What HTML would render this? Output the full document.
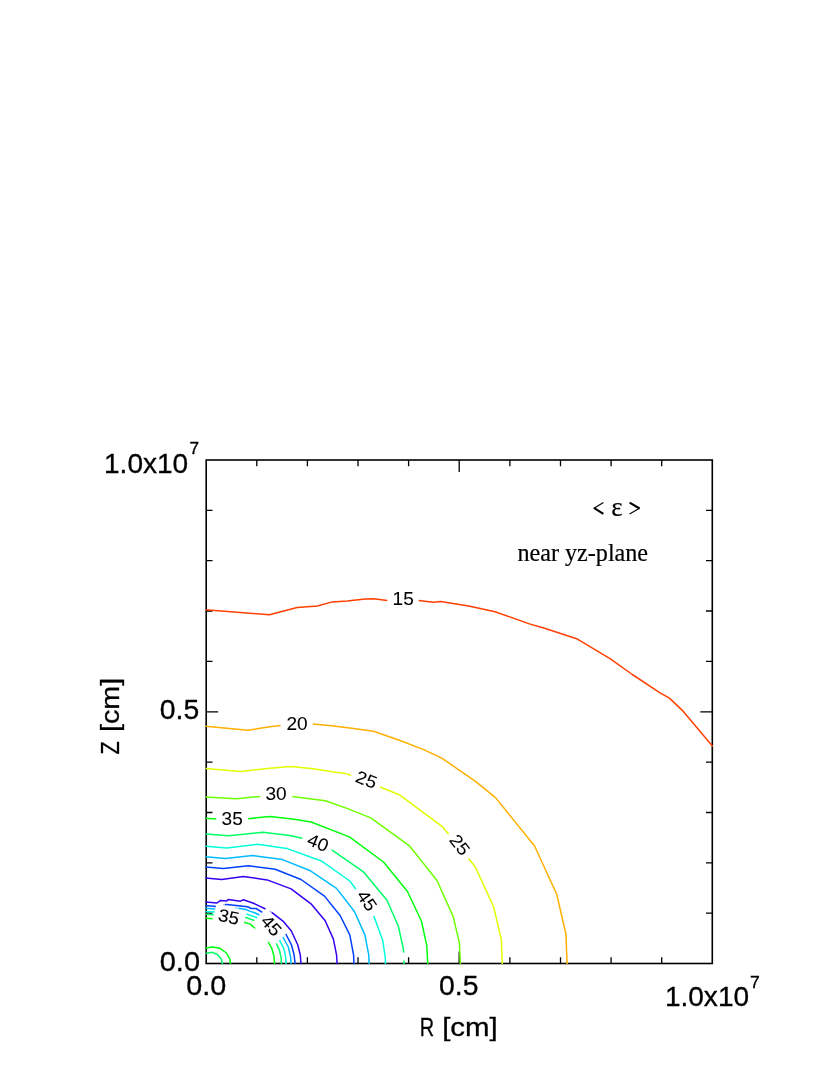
<!DOCTYPE html>
<html><head><meta charset="utf-8"><title>contour</title>
<style>
html,body{margin:0;padding:0;background:#fff;}
body{width:830px;height:1075px;overflow:hidden;font-family:"Liberation Sans",sans-serif;}
svg{display:block;will-change:transform;}
.t{font-family:"Liberation Sans",sans-serif;fill:#000;stroke:#000;stroke-width:0.3px;}
.l{stroke-width:0.05px;}
.s{font-family:"Liberation Serif",serif;fill:#000;stroke:#000;stroke-width:0.2px;}
</style></head><body>
<svg width="830" height="1075" viewBox="0 0 830 1075">
<rect x="0" y="0" width="830" height="1075" fill="#fff"/>
<g stroke="#000" stroke-width="1.6" fill="none" stroke-linecap="butt">
<rect x="206.2" y="460.0" width="506.1" height="503.5"/>
<path stroke-width="1.3" d="M256.8,963.5V957.2M256.8,460.0V466.3M206.2,913.1H212.5M712.3,913.1H706.0M307.4,963.5V957.2M307.4,460.0V466.3M206.2,862.8H212.5M712.3,862.8H706.0M358.0,963.5V957.2M358.0,460.0V466.3M206.2,812.5H212.5M712.3,812.5H706.0M408.6,963.5V957.2M408.6,460.0V466.3M206.2,762.1H212.5M712.3,762.1H706.0M459.2,963.5V951.5M459.2,460.0V472.0M206.2,711.8H218.2M712.3,711.8H700.3M509.9,963.5V957.2M509.9,460.0V466.3M206.2,661.4H212.5M712.3,661.4H706.0M560.5,963.5V957.2M560.5,460.0V466.3M206.2,611.0H212.5M712.3,611.0H706.0M611.1,963.5V957.2M611.1,460.0V466.3M206.2,560.7H212.5M712.3,560.7H706.0M661.7,963.5V957.2M661.7,460.0V466.3M206.2,510.4H212.5M712.3,510.4H706.0"/>
</g>
<g fill="none" stroke-width="1.5" stroke-linejoin="round" stroke-linecap="butt">
<polyline stroke="#FF4000" points="205.6,609.8 269.5,614.8 297.1,607.6 317.5,606.0 332.2,601.9 347.2,601.0 365.1,599.1 373.9,598.8 387.3,600.4"/>
<polyline stroke="#FF4000" points="418.7,600.4 433.4,602.2 440.6,601.6 468.7,606.0 495.0,611.7 529.4,623.9 544.6,628.2 576.6,638.7 610.4,658.9 632.3,674.5 659.3,692.3 669.4,698.1 682.9,710.9 712.8,746.5"/>
<polyline stroke="#FFAF00" points="205.6,726.3 247.9,730.2 269.9,726.7 280.7,725.5"/>
<polyline stroke="#FFAF00" points="312.8,723.9 331.3,725.8 351.8,728.2 373.5,731.3 400.0,740.5 423.7,749.6 441.8,758.1 475.5,781.4 495.5,797.6 534.6,846.0 556.7,894.2 565.9,934.0 567.1,964.1"/>
<polyline stroke="#E0FF00" points="205.6,768.6 240.7,771.6 269.9,768.2 291.1,766.5 313.3,768.7 333.7,772.0 345.8,773.4 351.2,775.5"/>
<polyline stroke="#E0FF00" points="380.3,787.0 399.2,794.7 442.7,826.9 448.7,834.2"/>
<polyline stroke="#E0FF00" points="468.6,858.5 475.3,867.0 493.6,906.7 501.3,939.3 502.3,964.1"/>
<polyline stroke="#6EFF00" points="205.6,796.9 236.1,798.8 260.2,796.4"/>
<polyline stroke="#6EFF00" points="292.3,796.4 325.3,800.8 347.0,808.4 370.8,817.9 409.8,846.2 437.0,880.5 453.1,916.4 459.4,942.9 460.4,964.1"/>
<polyline stroke="#00FF0C" points="205.6,818.3 216.3,819.1"/>
<polyline stroke="#00FF0C" points="248.1,818.7 270.2,816.4 294.0,819.2 311.0,822.0 349.4,836.9 383.5,862.0 407.5,891.5 421.4,921.0 426.7,945.1 427.8,964.1"/>
<polyline stroke="#00FF66" points="205.6,833.9 228.6,835.8 262.9,832.2 289.6,835.4 302.4,838.2"/>
<polyline stroke="#00FF66" points="331.8,849.9 363.8,872.2 386.8,900.0 398.3,926.0 403.2,948.0 403.7,952.6"/>
<polyline stroke="#00FF66" points="403.9,960.5 403.9,964.1"/>
<polyline stroke="#00FFDA" points="205.6,846.2 226.7,847.9 257.8,844.3 286.7,848.4 322.0,861.3 349.8,881.0 356.0,889.3"/>
<polyline stroke="#00FFDA" points="373.8,916.0 382.6,940.0 385.2,956.9 385.5,964.1"/>
<polyline stroke="#00BBFF" points="205.6,856.8 225.3,858.5 252.8,855.6 282.4,859.6 310.5,870.8 336.5,888.4 354.3,911.2 364.9,934.9 368.8,955.2 369.2,964.1"/>
<polyline stroke="#0040FF" points="205.6,866.9 223.4,868.5 248.4,865.7 275.2,869.3 301.0,879.5 324.5,896.1 340.1,915.5 349.8,934.9 353.6,955.2 354.0,964.1"/>
<polyline stroke="#3600F0" points="205.6,877.9 221.7,879.4 243.4,876.6 267.2,879.9 291.1,888.9 311.0,903.8 325.2,920.8 333.4,939.1 336.6,955.2 337.1,964.1"/>
<polyline stroke="#3600F0" points="205.6,902.0 217.0,903.0 220.6,900.4 226.8,901.0 228.2,899.5 240.5,901.2 243.4,899.7 253.5,903.3 265.5,909.0"/>
<polyline stroke="#3600F0" points="271.7,912.3 283.6,921.7 291.2,930.7 297.7,944.8 300.3,955.0 301.0,964.1"/>
<polyline stroke="#0040FF" points="205.6,905.5 215.9,906.4"/>
<polyline stroke="#0040FF" points="225.0,904.6 226.4,904.4 238.7,905.7 247.4,906.7 251.4,908.5 256.1,908.5 262.3,912.3"/>
<polyline stroke="#0040FF" points="285.8,934.0 291.6,945.2 294.1,955.0 295.2,964.1"/>
<polyline stroke="#00BBFF" points="205.6,908.3 215.2,909.0"/>
<polyline stroke="#00BBFF" points="238.6,908.3 245.9,909.5 250.3,911.4 254.6,912.7 259.5,915.0"/>
<polyline stroke="#00BBFF" points="282.9,937.0 288.3,947.0 290.5,956.4 291.1,964.1"/>
<polyline stroke="#00FFDA" points="205.6,911.4 214.8,912.0"/>
<polyline stroke="#00FFDA" points="246.3,914.0 257.2,917.7"/>
<polyline stroke="#00FFDA" points="279.6,940.1 284.0,949.2 285.8,957.8 286.0,964.1"/>
<polyline stroke="#00FF66" points="205.6,914.3 213.8,914.7"/>
<polyline stroke="#00FF66" points="245.2,917.2 254.4,920.5"/>
<polyline stroke="#00FF66" points="276.2,943.4 279.6,950.6 281.1,957.8 281.5,964.1"/>
<polyline stroke="#00FF0C" points="205.6,918.3 212.7,918.7"/>
<polyline stroke="#00FF0C" points="244.1,922.3 250.3,924.1 254.6,928.0"/>
<polyline stroke="#00FF0C" points="268.4,942.3 271.7,948.1 273.9,955.7 274.6,964.1"/>
<polyline stroke="#00FF0C" points="205.6,948.1 212.6,947.0 219.9,948.3 226.5,953.0 229.8,958.9 230.5,964.1"/>
<polyline stroke="#00FF66" points="205.6,953.4 211.9,952.3 217.2,954.3 221.2,958.9 222.5,964.1"/>
<polyline stroke="#00BBFF" stroke-opacity="0.35" points="234.8,907.8 238.6,908.3"/>
<polyline stroke="#0040FF" stroke-opacity="0.35" points="223.4,905.0 225.0,904.6"/>
<polyline stroke="#00FF0C" stroke-opacity="0.35" points="254.6,928.0 255.7,929.3"/>
<polyline stroke="#3600F0" stroke-opacity="0.35" points="269.6,910.9 271.7,912.3"/>
<polyline stroke="#00FF0C" stroke-opacity="0.35" points="267.6,941.0 268.4,942.3"/>
</g>
<text class="t l" font-size="17.6" text-anchor="middle" textLength="21.2" lengthAdjust="spacingAndGlyphs" transform="translate(403.2,598.8) rotate(0)" x="0" y="6.4">15</text>
<text class="t l" font-size="17.6" text-anchor="middle" textLength="21.2" lengthAdjust="spacingAndGlyphs" transform="translate(297.0,723.6) rotate(0)" x="0" y="6.4">20</text>
<text class="t l" font-size="17.6" text-anchor="middle" textLength="21.2" lengthAdjust="spacingAndGlyphs" transform="translate(276.1,793.3) rotate(0)" x="0" y="6.4">30</text>
<text class="t l" font-size="17.6" text-anchor="middle" textLength="21.2" lengthAdjust="spacingAndGlyphs" transform="translate(232.2,818.6) rotate(0)" x="0" y="6.4">35</text>
<text class="t l" font-size="17.6" text-anchor="middle" textLength="21.2" lengthAdjust="spacingAndGlyphs" transform="translate(366.5,779.2) rotate(21)" x="0" y="6.4">25</text>
<text class="t l" font-size="17.6" text-anchor="middle" textLength="21.2" lengthAdjust="spacingAndGlyphs" transform="translate(460.1,844.6) rotate(52)" x="0" y="6.4">25</text>
<text class="t l" font-size="17.6" text-anchor="middle" textLength="21.2" lengthAdjust="spacingAndGlyphs" transform="translate(318.1,842.4) rotate(22)" x="0" y="6.4">40</text>
<text class="t l" font-size="17.6" text-anchor="middle" textLength="21.2" lengthAdjust="spacingAndGlyphs" transform="translate(367.3,900.4) rotate(55)" x="0" y="6.4">45</text>
<text class="t l" font-size="17.6" text-anchor="middle" textLength="21.2" lengthAdjust="spacingAndGlyphs" transform="translate(228.9,916.4) rotate(12)" x="0" y="6.4">35</text>
<text class="t l" font-size="17.6" text-anchor="middle" textLength="21.2" lengthAdjust="spacingAndGlyphs" transform="translate(271.5,925.4) rotate(48)" x="0" y="6.4">45</text>
<text class="t" font-size="26.8" x="159.8" y="971.0" textLength="40.2" lengthAdjust="spacingAndGlyphs">0.0</text>
<text class="t" font-size="26.8" x="159.8" y="719.0" textLength="39.4" lengthAdjust="spacingAndGlyphs">0.5</text>
<text class="t" font-size="26.8" x="104.0" y="472.9" textLength="84.2" lengthAdjust="spacingAndGlyphs">1.0x10</text>
<text class="t" font-size="17" x="189.6" y="454.2" textLength="9.6" lengthAdjust="spacingAndGlyphs">7</text>
<text class="t" font-size="26.8" x="186.3" y="995.1" textLength="40.0" lengthAdjust="spacingAndGlyphs">0.0</text>
<text class="t" font-size="26.8" x="439.1" y="995.1" textLength="39.4" lengthAdjust="spacingAndGlyphs">0.5</text>
<text class="t" font-size="26.8" x="664.9" y="1005.7" textLength="84.2" lengthAdjust="spacingAndGlyphs">1.0x10</text>
<text class="t" font-size="17" x="750.0" y="987.5" textLength="9.8" lengthAdjust="spacingAndGlyphs">7</text>
<text class="t" font-size="26.5" x="419.8" y="1036.1" textLength="14.4" lengthAdjust="spacingAndGlyphs">R</text>
<text class="t" font-size="26.5" x="442.2" y="1036.1" textLength="55.6" lengthAdjust="spacingAndGlyphs">[cm]</text>
<text class="t" font-size="26.5" transform="translate(119.2,754.5) rotate(-90)" x="0" y="0" textLength="13.3" lengthAdjust="spacingAndGlyphs">Z</text>
<text class="t" font-size="26.5" transform="translate(119.2,732.1) rotate(-90)" x="0" y="0" textLength="54.4" lengthAdjust="spacingAndGlyphs">[cm]</text>
<g stroke="#000" fill="none" stroke-linecap="butt"><path d="M603.4,502.5L594.0,508.2" stroke-width="1.1"/><path d="M593.9,507.9L603.4,513.9" stroke-width="2.1"/><path d="M629.6,502.7L639.6,508.5" stroke-width="2.1"/><path d="M639.5,508.2L629.6,514.0" stroke-width="1.1"/></g>
<text class="s" font-size="27" x="611.2" y="516.0">&#949;</text>
<text class="s" font-size="25" x="517.4" y="561.2" textLength="130.7" lengthAdjust="spacingAndGlyphs">near yz-plane</text>
</svg>
</body></html>
